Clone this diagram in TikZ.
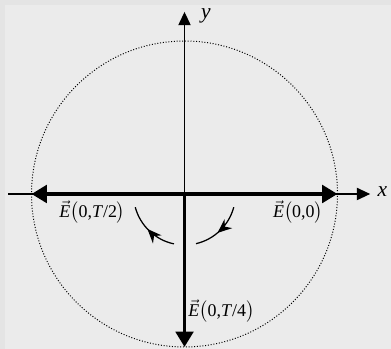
\documentclass[tikz,border=0pt]{standalone}
\usepackage{fontspec}
\setmainfont{Liberation Serif}
\usetikzlibrary{arrows.meta,decorations.markings}
\definecolor{paper}{RGB}{235,235,235}
\definecolor{paperedge}{RGB}{228,228,228}
\newcommand{\fieldlabel}[1]{$\vec{\mbox{\itshape E}}\bigl(\mbox{#1}\bigr)$}

\begin{document}
\begin{tikzpicture}[
    axis/.style={line width=0.7pt, -{Triangle[length=2.6mm,width=2.4mm]}},
    field/.style={line width=2.2pt, -{Triangle[length=3mm,width=3.4mm]}},
    turn/.style={line width=0.7pt, postaction={decorate},
        decoration={markings, mark=at position #1 with {\arrow{Stealth[length=2.8mm,width=2.3mm]}}}},
    lbl/.style={inner sep=0pt}
]
    % page
    \fill[paperedge] (-3.618,-3.039) rectangle (4.049,3.804);
    \fill[paper] (-3.52,-3.039) rectangle (4.049,3.71);
    \useasboundingbox (-3.618,-3.039) rectangle (4.049,3.804);

    \coordinate (O) at (0,0);
    \coordinate (xl) at (-3.46,0);
    \coordinate (xr) at (3.64,0);
    \coordinate (yt) at (0,3.57);
    \coordinate (e0) at (3,0);
    \coordinate (eh) at (-3,0);
    \coordinate (eq) at (0,-3);

    % circle traced by the field tip
    \draw[densely dotted, line width=0.55pt] (O) circle[radius=3];

    % axes
    \draw[axis] (xl) -- (xr);
    \draw[axis] (O) -- (yt);
    \node[lbl, font=\itshape\large] (xlab) at (3.88,0.04) {x};
    \node[lbl, font=\itshape\large] (ylab) at (0.42,3.50) {y};

    % field vectors
    \draw[field] (O) -- (e0);
    \draw[field] (O) -- (eh);
    \draw[field] (O) -- (eq);
    \node[lbl, anchor=north east] (l0) at (2.72,-0.12) {\fieldlabel{0,0}};
    \node[lbl, anchor=north west] (lh) at (-2.46,-0.12) {\fieldlabel{0,\textit{T}/2}};
    \node[lbl, anchor=north west] (lq) at (0.07,-2.06) {\fieldlabel{0,\textit{T}/4}};

    % sense of rotation
    \draw[turn=0.56] ([shift={(-15:1)}]O) arc[start angle=-15, end angle=-77, radius=1];
    \draw[turn=0.55] ([shift={(-102:1)}]O) arc[start angle=-102, end angle=-165, radius=1];
\end{tikzpicture}
\end{document}
